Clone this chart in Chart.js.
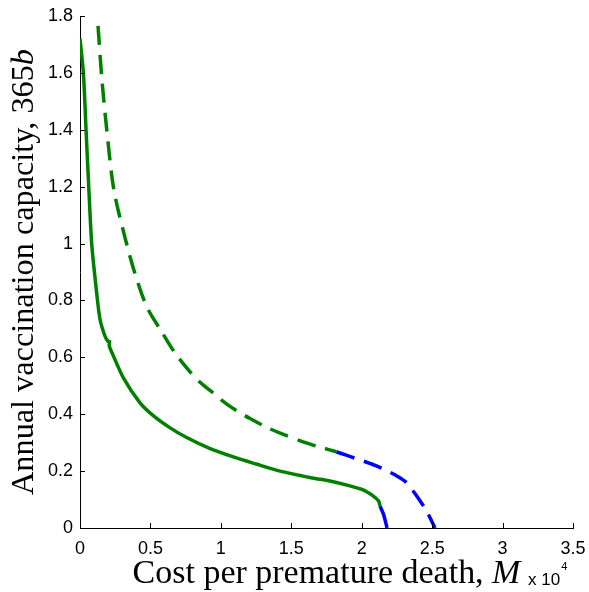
<!DOCTYPE html>
<html><head><meta charset="utf-8">
<script src="https://cdn.jsdelivr.net/npm/chart.js@4/dist/chart.umd.min.js"></script>
<style>html,body{margin:0;padding:0;background:#fff}#wrap{width:589px;height:592px}</style>
</head><body><div id="wrap"><canvas id="c" width="589" height="592"></canvas></div>
<script>
// Data (x in units of 10^4)
const solidGreenX = [0, 0.024, 0.043, 0.062, 0.083, 0.118, 0.142, 0.177, 0.2, 0.21, 0.208, 0.237, 0.307, 0.426, 0.52, 0.64, 0.757, 0.92, 1.1, 1.25, 1.42, 1.65, 1.774, 1.916, 2.01, 2.08, 2.12, 2.13];
const solidGreenY = [1.72, 1.6, 1.4, 1.2, 1.0, 0.828, 0.734, 0.675, 0.655, 0.655, 0.64, 0.605, 0.529, 0.44, 0.395, 0.352, 0.318, 0.28, 0.248, 0.225, 0.2, 0.176, 0.165, 0.148, 0.134, 0.113, 0.095, 0.077];
const solidBlueX = [2.13, 2.155, 2.18];
const solidBlueY = [0.077, 0.048, 0];
const dashGreenX = [0.128, 0.155, 0.19, 0.24, 0.32, 0.39, 0.475, 0.58, 0.675, 0.78, 0.85, 0.945, 1.03, 1.12, 1.21, 1.33, 1.43, 1.6, 1.70, 1.82];
const dashGreenY = [1.765, 1.58, 1.40, 1.19, 1.02, 0.895, 0.777, 0.69, 0.615, 0.55, 0.513, 0.475, 0.44, 0.41, 0.384, 0.353, 0.332, 0.30, 0.285, 0.268];
const dashBlueX = [1.82, 1.89, 1.96, 2.03, 2.10, 2.165, 2.235, 2.31, 2.365, 2.415, 2.46, 2.52];
const dashBlueY = [0.268, 0.256, 0.244, 0.232, 0.219, 0.205, 0.187, 0.163, 0.13, 0.095, 0.06, 0];
const xTicks = [0, 0.5, 1, 1.5, 2, 2.5, 3, 3.5];
const yTicks = [0, 0.2, 0.4, 0.6, 0.8, 1, 1.2, 1.4, 1.6, 1.8];

const pts = (xs, ys) => xs.map((x, i) => ({x: x, y: ys[i]}));
const GREEN = '#008000', BLUE = '#0000ff';
const ds = (data, color, dash, t) => ({data, borderColor: color, borderWidth: 3.5, borderDash: dash, pointRadius: 0, showLine: true, tension: t, fill: false, borderCapStyle: 'butt'});

const decor = {
  id: 'decor',
  afterDraw(chart) {
    const ctx = chart.ctx, a = chart.chartArea, xs = chart.scales.x, ys = chart.scales.y;
    ctx.save();
    ctx.strokeStyle = '#000'; ctx.lineWidth = 1;
    ctx.beginPath();
    xTicks.forEach(v => { const p = Math.round(xs.getPixelForValue(v)) + 0.5; ctx.moveTo(p, a.bottom); ctx.lineTo(p, a.bottom - 5); });
    yTicks.forEach(v => { const p = Math.round(ys.getPixelForValue(v)) + 0.5; ctx.moveTo(a.left, p); ctx.lineTo(a.left + 5, p); });
    ctx.stroke();
    // x title
    const serif = '"Liberation Serif", "DejaVu Serif", serif';
    const t1 = 'Cost per premature death, ', t2 = 'M';
    let fs = 25;
    ctx.font = fs + 'px ' + serif; let w1 = ctx.measureText(t1).width;
    ctx.font = 'italic ' + fs + 'px ' + serif; let w2 = ctx.measureText(t2).width;
    const sc = 388 / (w1 + w2); fs = fs * sc;
    ctx.font = fs + 'px ' + serif; w1 = ctx.measureText(t1).width;
    ctx.font = 'italic ' + fs + 'px ' + serif; w2 = ctx.measureText(t2).width;
    const cx = (a.left + a.right) / 2;
    let sx = cx - (w1 + w2) / 2;
    ctx.fillStyle = '#000'; ctx.textBaseline = 'alphabetic'; ctx.textAlign = 'left';
    ctx.font = fs + 'px ' + serif; ctx.fillText(t1, sx, 583);
    ctx.font = 'italic ' + fs + 'px ' + serif; ctx.fillText(t2, sx + w1, 583);
    // x 10^4
    ctx.font = '17px "Liberation Sans", Arial, sans-serif';
    ctx.fillText('x 10', 528, 585);
    const wx = ctx.measureText('x 10').width;
    ctx.font = '11px "Liberation Sans", Arial, sans-serif';
    ctx.fillText('4', 528 + wx + 1, 570);
    // y title
    const y1 = 'Annual vaccination capacity, 365', y2 = 'b';
    let fy = 25;
    ctx.font = fy + 'px ' + serif; let v1 = ctx.measureText(y1).width;
    ctx.font = 'italic ' + fy + 'px ' + serif; let v2 = ctx.measureText(y2).width;
    fy = fy * 446 / (v1 + v2);
    ctx.font = fy + 'px ' + serif; v1 = ctx.measureText(y1).width;
    ctx.font = 'italic ' + fy + 'px ' + serif; v2 = ctx.measureText(y2).width;
    ctx.translate(33, (a.top + a.bottom) / 2);
    ctx.rotate(-Math.PI / 2);
    const s0 = -(v1 + v2) / 2;
    ctx.font = fy + 'px ' + serif; ctx.fillText(y1, s0, 0);
    ctx.font = 'italic ' + fy + 'px ' + serif; ctx.fillText(y2, s0 + v1, 0);
    ctx.restore();
  }
};

new Chart(document.getElementById('c'), {
  type: 'scatter',
  data: { datasets: [
    ds(pts(dashGreenX, dashGreenY), GREEN, [19, 10], 0.3),
    ds(pts(dashBlueX, dashBlueY), BLUE, [19, 10], 0.3),
    ds(pts(solidGreenX, solidGreenY), GREEN, [], 0.25),
    ds(pts(solidBlueX, solidBlueY), BLUE, [], 0.25)
  ]},
  options: {
    responsive: false, animation: false, devicePixelRatio: 1,
    layout: { padding: { top: 16, right: 16, left: 0, bottom: 0 } },
    plugins: { legend: { display: false }, tooltip: { enabled: false } },
    scales: {
      x: { type: 'linear', min: 0, max: 3.5,
        afterFit: s => { s.height = 64; s.paddingRight = 0; s.paddingLeft = 0; },
        afterBuildTicks: s => { s.ticks = xTicks.map(v => ({value: v})); },
        grid: { display: false, drawTicks: false },
        border: { display: true, color: '#000', width: 1 },
        ticks: { color: '#000', padding: 10, maxRotation: 0, autoSkip: false, font: { family: '"Liberation Sans", Arial, sans-serif', size: 18 }, callback: v => String(v) } },
      y: { type: 'linear', min: 0, max: 1.8,
        afterFit: s => { s.width = 80; s.paddingTop = 0; s.paddingBottom = 0; },
        afterBuildTicks: s => { s.ticks = yTicks.map(v => ({value: v})); },
        grid: { display: false, drawTicks: false },
        border: { display: true, color: '#000', width: 1 },
        ticks: { color: '#000', padding: 7, autoSkip: false, font: { family: '"Liberation Sans", Arial, sans-serif', size: 18 }, callback: v => String(v) } }
    }
  },
  plugins: [decor]
});
</script></body></html>
